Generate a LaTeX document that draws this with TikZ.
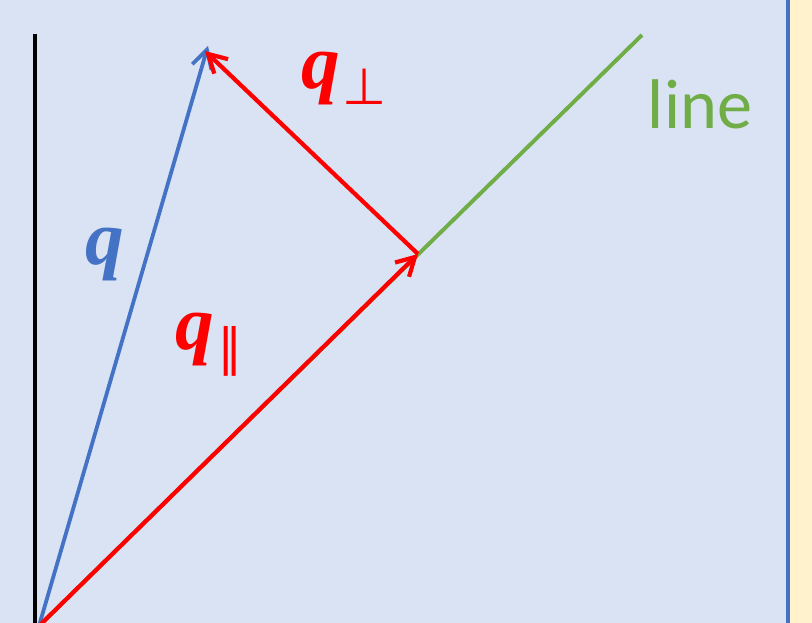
\documentclass[tikz,border=0pt]{standalone}
\usepackage{fontspec}
\usepackage{amsmath}
\newfontfamily\vecfont{Liberation Serif}
\newfontfamily\linefont{Carlito}
\newfontfamily\symfont{DejaVu Sans}
\definecolor{bgcol}{HTML}{DAE3F3}
\definecolor{padcol}{HTML}{FFF2CC}
\definecolor{qcol}{HTML}{4472C4}
\definecolor{linecol}{HTML}{70AD47}
\definecolor{projcol}{RGB}{255,0,0}
\usetikzlibrary{arrows.meta, positioning}

\begin{document}
\begin{tikzpicture}[x=0.025cm, y=-0.025cm,
  vecarrow/.style={line width=3pt, -{Straight Barb[length=4.5mm, width=5mm]}},
  veclabel/.style={inner sep=0pt, font=\fontsize{55}{60}\selectfont\vecfont\bfseries\itshape},
  sublabel/.style={inner sep=0pt, projcol, font=\fontsize{36}{40}\selectfont\symfont}]

  % Background and right-hand border
  \useasboundingbox (0, 0) rectangle (812, 623);
  \fill[bgcol] (0, 0) rectangle (788, 623);
  \fill[padcol] (788, 0) rectangle (812, 623);
  \draw[qcol, line width=3pt] (788, 0) -- (788, 623);

  % Points
  \coordinate (O) at (39, 626);
  \coordinate (L) at (642, 35);
  \coordinate (P) at (418, 254);
  \coordinate (Qb) at (208, 46);
  \coordinate (Qr) at (205, 51);
  \coordinate (Atop) at (35, 34);
  \coordinate (Abot) at (35, 626);

  % Axis and line
  \draw[black, line width=3pt] (Atop) -- (Abot);
  \draw[linecol, line width=2.8pt] (O) -- (L);

  % Vectors
  \draw[vecarrow, qcol, line width=2.7pt] (O) -- (Qb);
  \draw[vecarrow, projcol] (O) -- (P);
  \draw[vecarrow, projcol] (P) -- (Qr);

  % Labels
  \node[veclabel, qcol] (qlbl) at (105, 255) {q};
  \node[veclabel, projcol] (qperp) at (321, 79) {q};
  \node[sublabel] (perpsub) at (365, 87) {⊥};
  \node[veclabel, projcol] (qpar) at (195, 340) {q};
  \node[sublabel] (parsub) at (230, 351) {∥};
  \node[linecol, inner sep=0pt, font=\fontsize{50}{56}\selectfont\linefont]
    (linelbl) at (700, 104) {line};

\end{tikzpicture}
\end{document}
